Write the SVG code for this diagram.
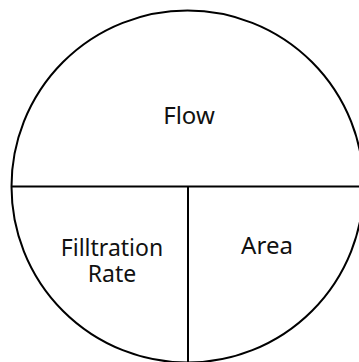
<svg xmlns="http://www.w3.org/2000/svg" width="359" height="362" viewBox="0 0 359 362">
<style>
.ln{fill:none;stroke:#000;stroke-width:2}
.t{font-family:"Noto Sans","Open Sans",sans-serif;font-size:24px;fill:#111;text-anchor:middle}
.s{font-size:23px}
</style>
<rect width="359" height="362" fill="#fff"/>
<g id="shape">
<circle class="ln" cx="187.5" cy="186.5" r="176"/>
<line class="ln" x1="11" y1="186.5" x2="364" y2="186.5"/>
<line class="ln" x1="188" y1="186.5" x2="188" y2="363"/>
</g>
<g id="flow"><text class="t" x="189" y="124">Flow</text></g>
<g id="rate"><text class="t s" x="112" y="256">Filltration</text><text class="t s" x="112" y="282">Rate</text></g>
<g id="area"><text class="t" x="267" y="254">Area</text></g>
</svg>
